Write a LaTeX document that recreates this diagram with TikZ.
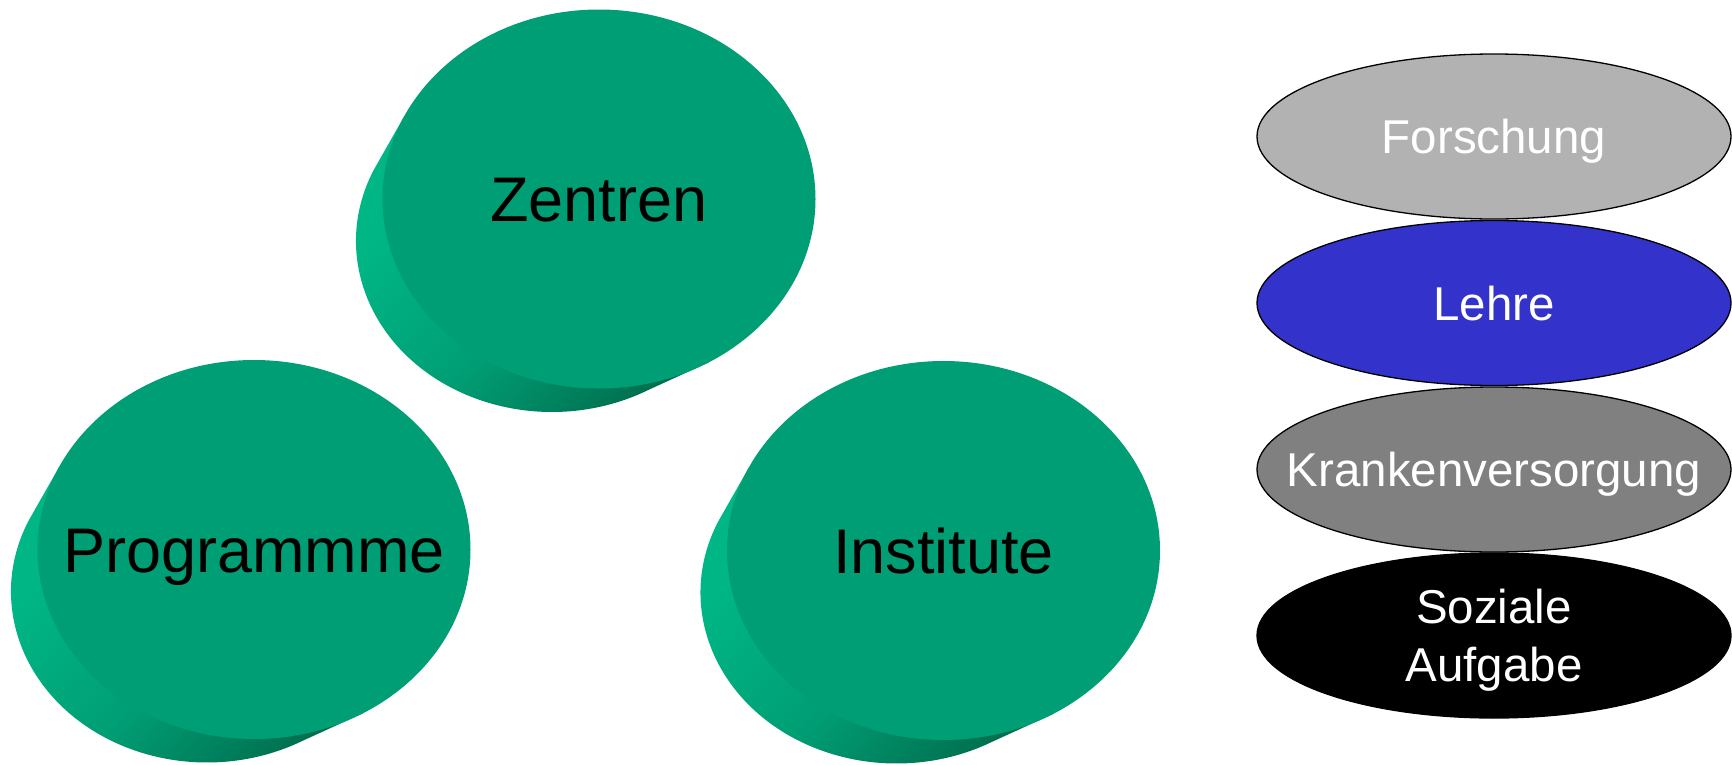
\documentclass[tikz,border=0pt]{standalone}
\usepackage{fontspec}
\setmainfont{Liberation Sans}
\usetikzlibrary{shapes.geometric}

\definecolor{topgreen}{RGB}{0,158,116}
\definecolor{sidelight}{RGB}{0,182,133}
\definecolor{sidedark}{RGB}{0,112,80}
\definecolor{forschgray}{RGB}{178,178,178}
\definecolor{lehreblue}{RGB}{51,51,204}
\definecolor{krankgray}{RGB}{128,128,128}

% gradient of the rim of a disk: light on the left, dark underneath
\pgfdeclarehorizontalshading{diskrim}{100bp}{%
  color(0bp)=(sidelight); color(32bp)=(sidelight); color(55bp)=(topgreen);
  color(76bp)=(sidedark); color(100bp)=(sidedark)}

\tikzset{
  face/.style={ellipse, inner sep=0pt, minimum width=433pt, minimum height=379pt, fill=topgreen},
  disklabel/.style={inner sep=0pt, text=black, font=\fontsize{63}{70}\selectfont,
    text height=45pt, text depth=0pt},
  layer/.style={ellipse, inner sep=0pt, minimum width=474pt, minimum height=165pt,
    draw=black, line width=1.3pt},
  layerlabel/.style={inner sep=0pt, text=white, font=\fontsize{47.5}{58}\selectfont,
    text height=34pt, text depth=0pt},
}

% a disk seen slightly from below: rim (smaller far face), top face, label
\newcommand\disk[4]{% name, x, y, text
  \begin{scope}[shift={(#2,#3)}]
    \shade[shading=diskrim, shading angle=-45]
      (206:216.5 and 189.5) -- ([shift={(-47,42)}]204.5:196 and 171)
      arc[start angle=204.5, end angle=61, x radius=196, y radius=171]
      -- (59.5:216.5 and 189.5) -- cycle;
  \end{scope}
  \node[face] (#1) at (#2,#3) {};
  \node[disklabel] (#1-text) at (#1.center) {#4};
}

\begin{document}
\begin{tikzpicture}[x=1pt, y=-1pt]
  \useasboundingbox (0,0) rectangle (1732,764);

  % the three disks
  \disk{zentren}{599}{199}{Zentren}
  \disk{programme}{254}{549.5}{Programmme}
  \disk{institute}{943.5}{550.5}{Institute}

  % stack of tasks on the right
  \node[layer, fill=forschgray] (forschung) at (1494,136.5) {};
  \node[layerlabel] (forschung-text) at (forschung.center) {Forschung};

  \node[layer, fill=lehreblue] (lehre) at (1494,303) {};
  \node[layerlabel] (lehre-text) at (lehre.center) {Lehre};

  \node[layer, fill=krankgray] (kranken) at (1494,469.5) {};
  \node[layerlabel] (kranken-text) at (kranken.center) {Krankenversorgung};

  \node[layer, fill=black] (soziale) at (1494,635.5) {};
  \node[inner sep=0pt, text=white, font=\fontsize{47.5}{58}\selectfont, align=center]
    (soziale-text) at (1494,640.6) {Soziale\\Aufgabe};
\end{tikzpicture}
\end{document}
